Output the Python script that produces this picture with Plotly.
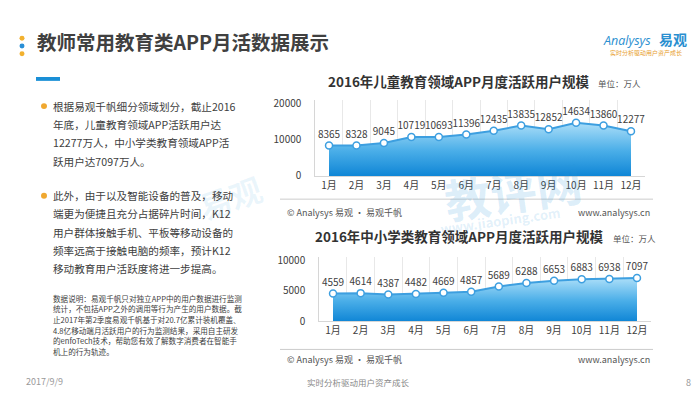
import plotly.graph_objects as go

W, H = 700, 394

months = ["1月", "2月", "3月", "4月", "5月", "6月", "7月", "8月", "9月", "10月", "11月", "12月"]
kids_users = [8365, 8328, 9045, 10719, 10693, 11396, 12435, 13835, 12852, 14634, 13860, 12277]
k12_users = [4559, 4614, 4387, 4482, 4669, 4857, 5689, 6288, 6653, 6883, 6938, 7097]
kids_ticks = [0, 10000, 20000]
k12_ticks = [0, 5000, 10000]

page_title = "教师常用教育类APP月活数据展示"
chart1_title = "2016年儿童教育领域APP月度活跃用户规模"
chart2_title = "2016年中小学类教育领域APP月度活跃用户规模"
unit_text = "单位：万人"
bullet1_lines = ["根据易观千帆细分领域划分，截止2016",
                 "年底，儿童教育领域APP活跃用户达",
                 "12277万人，中小学类教育领域APP活",
                 "跃用户达7097万人。"]
bullet2_lines = ["此外，由于以及智能设备的普及，移动",
                 "端更为便捷且充分占据碎片时间，K12",
                 "用户群体接触手机、平板等移动设备的",
                 "频率远高于接触电脑的频率，预计K12",
                 "移动教育用户活跃度将进一步提高。"]
note_lines = ["数据说明：易观千帆只对独立APP中的用户数据进行监测",
              "统计，不包括APP之外的调用等行为产生的用户数据。截",
              "止2017年第2季度易观千帆基于对20.7亿累计装机覆盖、",
              "4.8亿移动端月活跃用户的行为监测结果，采用自主研发",
              "的enfoTech技术，帮助您有效了解数字消费者在智能手",
              "机上的行为轨迹。"]

FONT = "Noto Sans CJK SC"
TXT = "#404040"
LINE = "#3d9fe0"


def px(x):
    return x / W


def py(y):
    return 1 - y / H


fig = go.Figure()


def add_area(values, xa, ya):
    fig.add_trace(go.Scatter(
        x=months, y=values, xaxis=xa, yaxis=ya,
        mode="lines+markers+text",
        text=[str(v) for v in values], textposition="top center",
        textfont=dict(family=FONT, size=10, color=TXT),
        fill="tozeroy",
        fillgradient=dict(type="vertical", start=0, stop=max(values),
                          colorscale=[[0, "#0a82d4"], [0.5, "#4aaee8"], [1, "#a9ddf8"]]),
        line=dict(color=LINE, width=2),
        marker=dict(size=7, color="white", line=dict(color=LINE, width=1.5)),
        cliponaxis=False, showlegend=False, hoverinfo="skip",
    ))


add_area(kids_users, "x", "y")
add_area(k12_users, "x2", "y2")

xcommon = dict(type="category", range=[-0.5, 11.5], tickson="boundaries",
               showgrid=True, gridcolor="#e8e8e8", gridwidth=1,
               showline=True, linecolor="#d6d6d6", linewidth=1,
               ticks="outside", ticklen=7, tickcolor="rgba(0,0,0,0)", tickangle=0,
               tickfont=dict(family=FONT, size=10, color=TXT), fixedrange=True)
ycommon = dict(showgrid=False, zeroline=False, showline=True, linecolor="#d6d6d6",
               linewidth=1, ticks="", ticklabelstandoff=11, tickformat="d",
               tickfont=dict(family=FONT, size=10, color=TXT), fixedrange=True)

fig.update_layout(
    width=W, height=H, margin=dict(l=0, r=0, t=0, b=0),
    paper_bgcolor="white", plot_bgcolor="rgba(0,0,0,0)",
    xaxis=dict(xcommon, domain=[px(307.3), px(636.7)], anchor="y"),
    yaxis=dict(ycommon, domain=[py(168), py(89.25)], anchor="x",
               range=[0, 21000], tickvals=kids_ticks),
    xaxis2=dict(xcommon, domain=[px(311.2), px(642.8)], anchor="y2"),
    yaxis2=dict(ycommon, domain=[py(318), py(251.85)], anchor="x2",
                range=[0, 10500], tickvals=k12_ticks),
)

ann = []


def text(x, y, s, size, color=TXT, xanchor="left", weight="normal", angle=0, family=FONT):
    ann.append(dict(x=px(x), y=py(y), xref="paper", yref="paper", text=s,
                    showarrow=False, xanchor=xanchor, yanchor="middle", textangle=angle,
                    font=dict(family=family, size=size, color=color, weight=weight)))


# watermarks
text(505, 183, "教评网", 46, "rgba(40,150,220,0.17)", "center", "bold", -8)
text(492, 214, "www.jiaoping.com", 13, "rgba(40,150,220,0.15)", "center", "bold", -8)
text(222, 190, "易观", 32, "rgba(40,150,220,0.09)", "center", "bold", -20)

# header
text(27, 29, page_title, 19.5, "#404040", "left", "bold")
text(593, 28, "<i>Analysys</i>", 12.5, "#2a8fd0", "left", "normal", 0, "Open Sans")
text(649, 27, "易观", 14, "#2a8fd0", "left", "bold")
text(638, 41, "实时分析驱动用户资产成长", 6, "#e8a030", "center")

# body text
for i, s in enumerate(bullet1_lines):
    text(43, 96 + i * 19, s, 10.6)
for i, s in enumerate(bullet2_lines):
    text(43, 188.5 + i * 18.8, s, 10.6)
for i, s in enumerate(note_lines):
    text(43, 294 + i * 11, s, 7.6)

# chart titles & units
text(451, 70, chart1_title, 13.5, "#333333", "center", "bold")
text(588, 72, unit_text, 8.5, "#555555")
text(451.5, 230, chart2_title, 13.5, "#333333", "center", "bold")
text(603, 232, unit_text, 8.5, "#555555")

# chart footers
for yy in (206, 357):
    text(277, yy, "© Analysys 易观 · 易观千帆", 9, "#555555")
    text(644, yy, "www.analysys.cn", 9, "#555555", "right")

# page footer
text(16, 380, "2017/9/9", 9, "#999999")
text(350, 381, "实时分析驱动用户资产成长", 8.5, "#888888", "center")
text(680, 381, "8", 9, "#999999", "center")

fig.update_layout(annotations=ann)

shapes = []


def circle(cx, cy, r, color):
    shapes.append(dict(type="circle", xref="paper", yref="paper",
                       x0=px(cx - r), x1=px(cx + r), y0=py(cy + r), y1=py(cy - r),
                       fillcolor=color, line=dict(width=0)))


circle(14, 26, 2.5, "#f2b12f")
circle(14, 34, 2.5, "#2a8fd6")
circle(14, 42, 2.5, "#f2b12f")
circle(36, 96, 3, "#f0a830")
circle(36, 188.5, 3, "#f0a830")
shapes.append(dict(type="rect", xref="paper", yref="paper", x0=px(28), x1=px(52),
                   y0=py(70), y1=py(66), fillcolor="#1a8fd6", line=dict(width=0)))
for yy in (192, 347):
    shapes.append(dict(type="line", xref="paper", yref="paper", x0=px(272), x1=px(645),
                       y0=py(yy), y1=py(yy), line=dict(color="#cccccc", width=1)))
fig.update_layout(shapes=shapes)

fig.write_html("out.html")
